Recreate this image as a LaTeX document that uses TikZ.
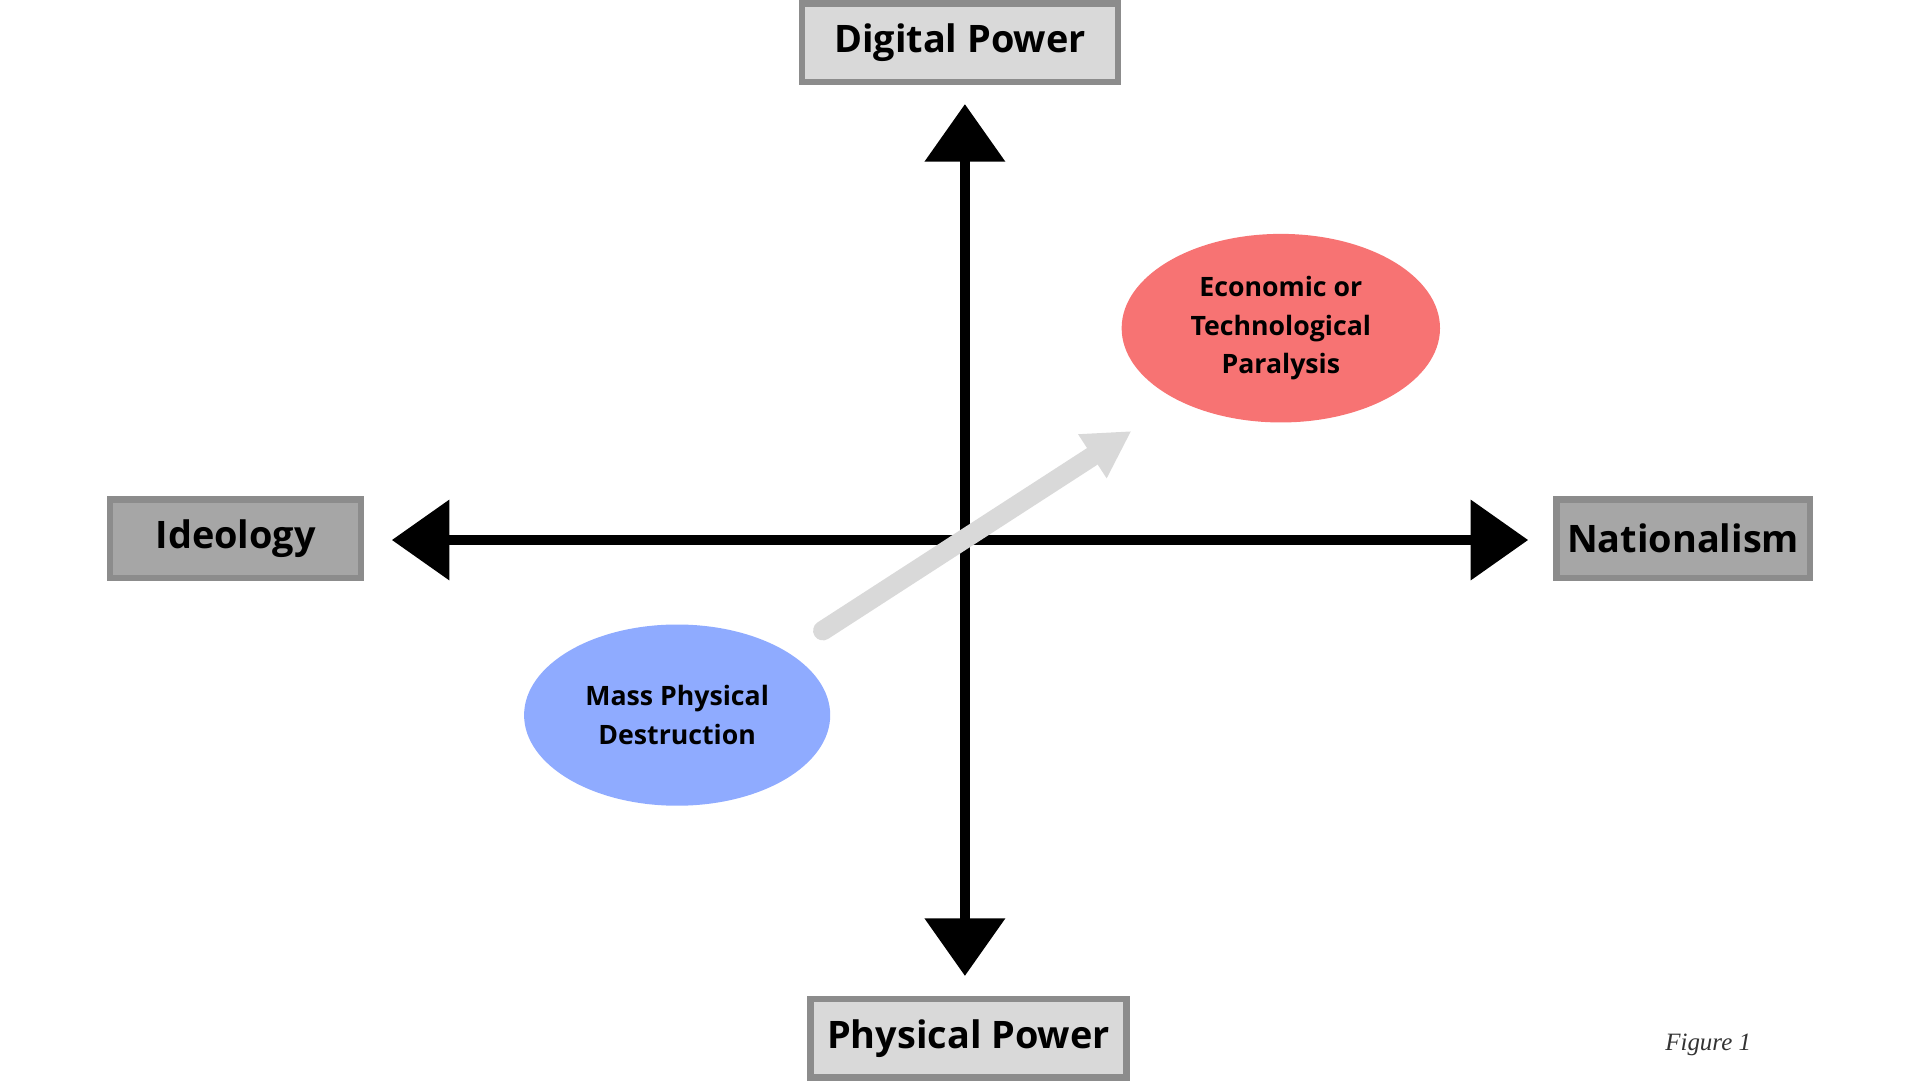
\documentclass[tikz,border=0pt]{standalone}
\usepackage{fontspec}
\setmainfont{Open Sans}
\usepackage{xcolor}
\usetikzlibrary{arrows.meta,shapes.geometric}

\definecolor{boxlight}{HTML}{D9D9D9}
\definecolor{boxdark}{HTML}{A6A6A6}
\definecolor{boxline}{HTML}{8C8C8C}
\definecolor{redblob}{HTML}{F77373}
\definecolor{blueblob}{HTML}{8FABFF}

\tikzset{
    axislabel/.style={draw=boxline, line width=1.5pt, minimum height=0.64cm,
        inner sep=0pt, font=\fontsize{8.8}{10}\selectfont\bfseries},
    blob/.style={ellipse, inner sep=0pt, align=center,
        font=\fontsize{6.2}{9}\selectfont\bfseries},
    axis/.style={line width=0.08cm, -{Triangle[width=0.64cm,length=0.47cm]}},
}

\begin{document}
\begin{tikzpicture}
        \useasboundingbox (0,0) rectangle (15.68,8.82);

        \node[axislabel, fill=boxlight, minimum width=2.58cm] (digital) at (7.84, 8.47) {Digital Power};
        \node[axislabel, fill=boxlight, minimum width=2.58cm] (physical) at (7.91, 0.34) {Physical Power};
        \node[axislabel, fill=boxdark, minimum width=2.05cm] (ideology) at (1.925, 4.42) {Ideology};
        \node[axislabel, fill=boxdark, minimum width=2.07cm] (nationalism) at (13.745, 4.42) {Nationalism};

        \coordinate (origin) at (7.88, 4.41);
        \coordinate (top) at (7.88, 7.97);
        \coordinate (bottom) at (7.88, 0.85);
        \coordinate (left) at (3.20, 4.41);
        \coordinate (right) at (12.48, 4.41);

        \draw[axis] (origin) -- (top);
        \draw[axis] (origin) -- (bottom);
        \draw[axis] (origin) -- (left);
        \draw[axis] (origin) -- (right);

        \node[blob, fill=redblob, minimum width=2.60cm, minimum height=1.54cm] (paralysis) at (10.46, 6.14)
            {Economic or\\Technological\\Paralysis};
        \node[blob, fill=blueblob, minimum width=2.50cm, minimum height=1.48cm] (destruction) at (5.53, 2.98)
            {Mass Physical\\Destruction};

        % shift from one to the other
        \coordinate (from) at (6.72, 3.67);
        \coordinate (to) at (9.24, 5.30);
        \draw[boxlight, line width=0.16cm, line cap=round,
            -{Triangle[width=0.40cm,length=0.38cm]}] (from) -- (to);

        \node[font=\fontsize{5.8}{7}\selectfont\itshape, text=black!80] (caption) at (13.95, 0.29)
            {\setmainfont{Liberation Serif}\itshape Figure 1};
    \end{tikzpicture}
\end{document}
